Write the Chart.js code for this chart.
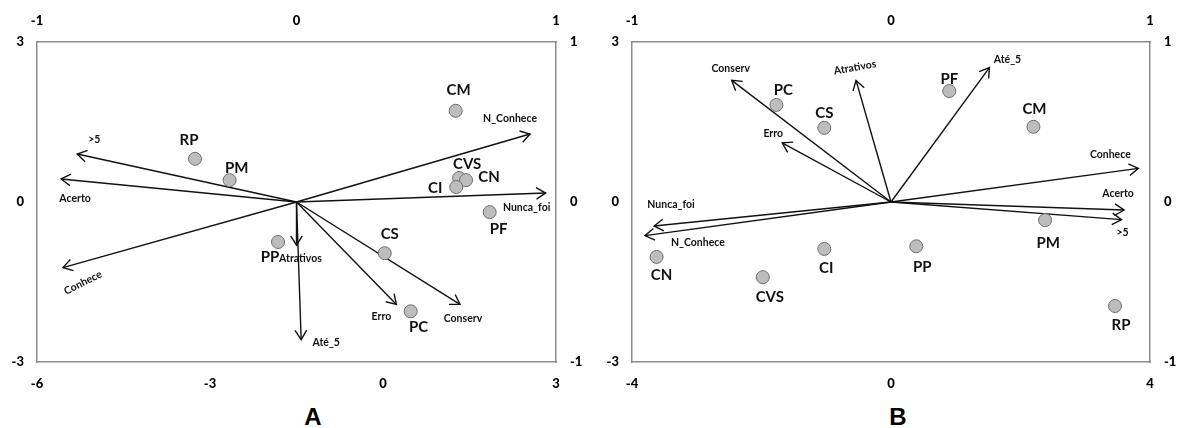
<!DOCTYPE html>
<html>
<head>
<meta charset="utf-8">
<script src="https://cdn.jsdelivr.net/npm/chart.js@4.4.0/dist/chart.umd.min.js"></script>
<style>
  body { margin: 0; background: #fff; }
  #wrap { position: relative; width: 1179px; height: 428px; overflow: hidden; }
  canvas { position: absolute; top: 0; }
  #chartA { left: 0; }
  #chartB { left: 600px; }
  .panel { position: absolute; top: 405px; font: bold 24px "Liberation Sans", Arial, sans-serif; line-height: 24px; transform: translateX(-50%); }
</style>
</head>
<body>
<div id="wrap">
  <canvas id="chartA" width="600" height="400"></canvas>
  <canvas id="chartB" width="579" height="400"></canvas>
  <div class="panel" style="left:313px">A</div>
  <div class="panel" style="left:898px">B</div>
</div>
<script>
// ---- panel A: sites (bottom/left axes) ----
const sitesA = ["CM", "RP", "PM", "CVS", "CN", "CI", "PF", "PP", "CS", "PC"];
const sitesAx = [1.26, -3.26, -2.66, 1.32, 1.44, 1.27, 1.85, -1.82, 0.03, 0.48];
const sitesAy = [1.71, 0.81, 0.41, 0.45, 0.41, 0.28, -0.19, -0.75, -0.96, -2.05];
// ---- panel A: variables (top/right axes) ----
const varsA = ["N_Conhece", ">5", "Acerto", "Nunca_foi", "Conhece", "Atrativos", "Até_5", "Erro", "Conserv"];
const varsAx = [0.90, -0.845, -0.907, 0.96, -0.90, 0.0, 0.018, 0.385, 0.63];
const varsAy = [0.425, 0.30, 0.144, 0.056, -0.41, -0.27, -0.86, -0.64, -0.64];

// ---- panel B ----
const sitesB = ["PC", "CS", "PF", "CM", "PM", "CN", "CVS", "CI", "PP", "RP"];
const sitesBx = [-1.77, -1.03, 0.90, 2.20, 2.38, -3.62, -1.98, -1.03, 0.39, 3.46];
const sitesBy = [1.82, 1.39, 2.08, 1.41, -0.34, -1.03, -1.41, -0.88, -0.83, -1.95];
const varsB = ["Conserv", "Erro", "Atrativos", "Até_5", "Conhece", "Acerto", ">5", "Nunca_foi", "N_Conhece"];
const varsBx = [-0.615, -0.42, -0.135, 0.38, 0.955, 0.90, 0.89, -0.915, -0.95];
const varsBy = [0.76, 0.37, 0.76, 0.84, 0.21, -0.05, -0.11, -0.15, -0.21];

// tick labels
const ticksAbottom = [-6, -3, 0, 3];
const ticksBbottom = [-4, 0, 4];
const ticksLeft = [-3, 0, 3];
const ticksSecondary = [-1, 0, 1];

// label placement (pixel offsets from the mark, optional rotation in degrees)
const offsetsA = {
  CM: [3, -21], RP: [-6, -19], PM: [7, -12], CVS: [8, -14], CN: [23, -3], CI: [-21, 1],
  PF: [9, 17], PP: [-8, 15], CS: [5, -19], PC: [8, 16],
  "N_Conhece": [-20, -15], ">5": [17, -14], "Acerto": [14, 20], "Nunca_foi": [-19, 15],
  "Conhece": [20, 15, -27], "Atrativos": [4, 13], "Até_5": [25, 3], "Erro": [-15, 12], "Conserv": [3, 14]
};
const offsetsB = {
  PC: [7, -15], CS: [0, -15], PF: [0, -12], CM: [1, -18], PM: [3, 23], CN: [5, 18],
  CVS: [7, 20], CI: [2, 19], PP: [6, 21], RP: [6, 19],
  "Conserv": [-1, -12], "Erro": [-9, -9], "Atrativos": [-1, -13, -10], "Até_5": [18, -8],
  "Conhece": [-28, -14], "Acerto": [-6, -16], ">5": [1, 13], "Nunca_foi": [17, -21], "N_Conhece": [53, 7]
};

const tickFont = { family: "Lato", weight: "900", size: 13 };
const boxColor = "#8c8c8c";

function drawText(ctx, text, x, y, rot, font) {
  ctx.save();
  ctx.translate(x, y);
  if (rot) ctx.rotate(rot * Math.PI / 180);
  ctx.font = font;
  ctx.fillStyle = "#111";
  ctx.textAlign = "center";
  ctx.textBaseline = "middle";
  ctx.fillText(text, 0, 0);
  ctx.restore();
}

const biplotDecor = {
  id: "biplotDecor",
  afterDatasetsDraw(chart, args, opts) {
    const ctx = chart.ctx;
    const L = 11, h = 32 * Math.PI / 180;
    chart.data.datasets.forEach((ds, i) => {
      if (!ds.isArrow) return;
      const pts = chart.getDatasetMeta(i).data;
      const a = pts[0], b = pts[1];
      const ang = Math.atan2(b.y - a.y, b.x - a.x);
      ctx.save();
      ctx.strokeStyle = "#111";
      ctx.lineWidth = 1.4;
      ctx.beginPath();
      ctx.moveTo(b.x - L * Math.cos(ang - h), b.y - L * Math.sin(ang - h));
      ctx.lineTo(b.x, b.y);
      ctx.lineTo(b.x - L * Math.cos(ang + h), b.y - L * Math.sin(ang + h));
      ctx.stroke();
      ctx.restore();
      const off = opts.offsets[ds.label] || [0, 0, 0];
      drawText(ctx, ds.label, b.x + off[0], b.y + off[1], off[2], "bold 10.5px Lato");
    });
    const sites = chart.data.datasets[0];
    chart.getDatasetMeta(0).data.forEach((p, j) => {
      const name = sites.names[j];
      const off = opts.offsets[name] || [0, 0, 0];
      drawText(ctx, name, p.x + off[0], p.y + off[1], off[2], "bold 15px Lato");
    });
  }
};

function axis(position, ticks, size, padding) {
  const horizontal = position === "top" || position === "bottom";
  return {
    type: "linear",
    position: position,
    min: ticks[0],
    max: ticks[ticks.length - 1],
    grid: { display: false, drawTicks: false },
    border: { display: true, color: boxColor, width: 1.5 },
    ticks: { font: tickFont, color: "#000", padding: padding, maxRotation: 0, autoSkip: false },
    afterBuildTicks: s => { s.ticks = ticks.map(v => ({ value: v })); },
    afterFit: s => { if (horizontal) s.height = size; else s.width = size; }
  };
}

function makeBiplot(id, names, sx, sy, vars, vx, vy, bottomTicks, leftW, rightW, offsets) {
  const datasets = [{
    type: "scatter",
    names: names,
    data: sx.map((x, i) => ({ x: x, y: sy[i] })),
    xAxisID: "x", yAxisID: "y",
    pointRadius: 6.5,
    pointBackgroundColor: "#bdbdbd",
    pointBorderColor: "#6e6e6e",
    pointBorderWidth: 1
  }];
  vars.forEach((v, i) => {
    datasets.push({
      type: "line",
      label: v,
      isArrow: true,
      data: [{ x: 0, y: 0 }, { x: vx[i], y: vy[i] }],
      xAxisID: "x2", yAxisID: "y2",
      borderColor: "#111",
      borderWidth: 1.4,
      pointRadius: 0,
      fill: false
    });
  });
  return new Chart(document.getElementById(id), {
    data: { datasets: datasets },
    options: {
      responsive: false,
      animation: false,
      layout: { padding: 0 },
      plugins: { legend: { display: false }, tooltip: { enabled: false }, biplotDecor: { offsets: offsets } },
      scales: {
        x: axis("bottom", bottomTicks, 38, 14),
        y: axis("left", ticksLeft, leftW, 13),
        x2: axis("top", ticksSecondary, 42, 13),
        y2: axis("right", ticksSecondary, rightW, 14)
      }
    },
    plugins: [biplotDecor]
  });
}

makeBiplot("chartA", sitesA, sitesAx, sitesAy, varsA, varsAx, varsAy, ticksAbottom, 37, 44, offsetsA);
makeBiplot("chartB", sitesB, sitesBx, sitesBy, varsB, varsBx, varsBy, ticksBbottom, 32, 29, offsetsB);
</script>
</body>
</html>
